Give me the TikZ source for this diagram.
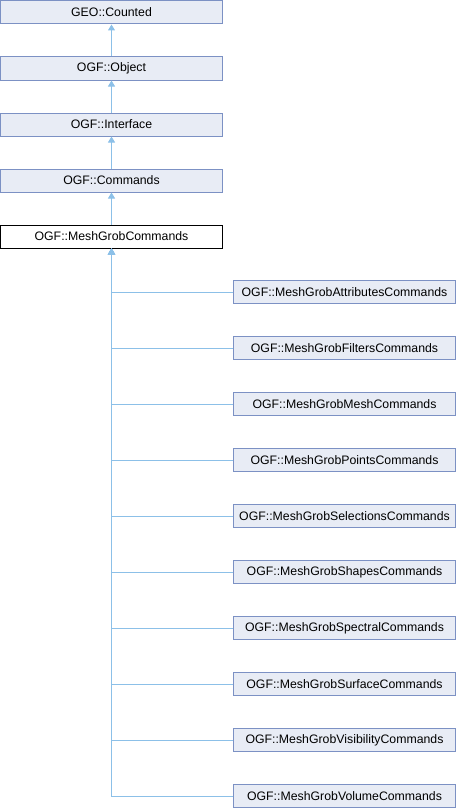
\documentclass[tikz,border=0pt]{standalone}
\usepackage{fontspec}
\setmainfont{Liberation Sans}
\usetikzlibrary{arrows.meta,positioning}
\definecolor{boxfill}{RGB}{232,236,245}
\definecolor{boxline}{RGB}{124,145,196}
\definecolor{edgeblue}{RGB}{140,192,232}
\tikzset{
	cls/.style={
		rectangle,
		draw=boxline,
		fill=boxfill,
		line width=1pt,
		minimum width=222pt,
		minimum height=23pt,
		inner sep=0pt,
		font=\fontsize{12.3}{14}\selectfont
	}
}

\begin{document}
\begin{tikzpicture}[x=1pt,y=-1pt]
			\tikzstyle{current}=[cls, draw=black, fill=white]
			\tikzstyle{inherit}=[draw=edgeblue, line width=1pt, -{Triangle[width=7pt,length=6pt]}]
			\useasboundingbox (0,0) rectangle (456,808);
			\node[cls] (counted) at (111.5,12.5) {GEO::Counted};
			\node[cls, below=32pt of counted] (object) {OGF::Object};
			\node[cls, below=32pt of object] (interface) {OGF::Interface};
			\node[cls, below=32pt of interface] (commands) {OGF::Commands};
			\node[current, below=32pt of commands] (meshgrob) {OGF::MeshGrobCommands};

			\node[cls] (attributes) at (344.5,292) {OGF::MeshGrobAttributesCommands};
			\node[cls, below=32pt of attributes] (filters) {OGF::MeshGrobFiltersCommands};
			\node[cls, below=32pt of filters] (mesh) {OGF::MeshGrobMeshCommands};
			\node[cls, below=32pt of mesh] (points) {OGF::MeshGrobPointsCommands};
			\node[cls, below=32pt of points] (selections) {OGF::MeshGrobSelectionsCommands};
			\node[cls, below=32pt of selections] (shapes) {OGF::MeshGrobShapesCommands};
			\node[cls, below=32pt of shapes] (spectral) {OGF::MeshGrobSpectralCommands};
			\node[cls, below=32pt of spectral] (surface) {OGF::MeshGrobSurfaceCommands};
			\node[cls, below=32pt of surface] (visibility) {OGF::MeshGrobVisibilityCommands};
			\node[cls, below=32pt of visibility] (volume) {OGF::MeshGrobVolumeCommands};

			\draw[inherit] (object) -- (counted);
			\draw[inherit] (interface) -- (object);
			\draw[inherit] (commands) -- (interface);
			\draw[inherit] (meshgrob) -- (commands);

			\foreach \c in {attributes,filters,mesh,points,selections,shapes,spectral,surface,visibility,volume}
				\draw[inherit] (\c.west) -| (meshgrob.south);
\end{tikzpicture}
\end{document}
